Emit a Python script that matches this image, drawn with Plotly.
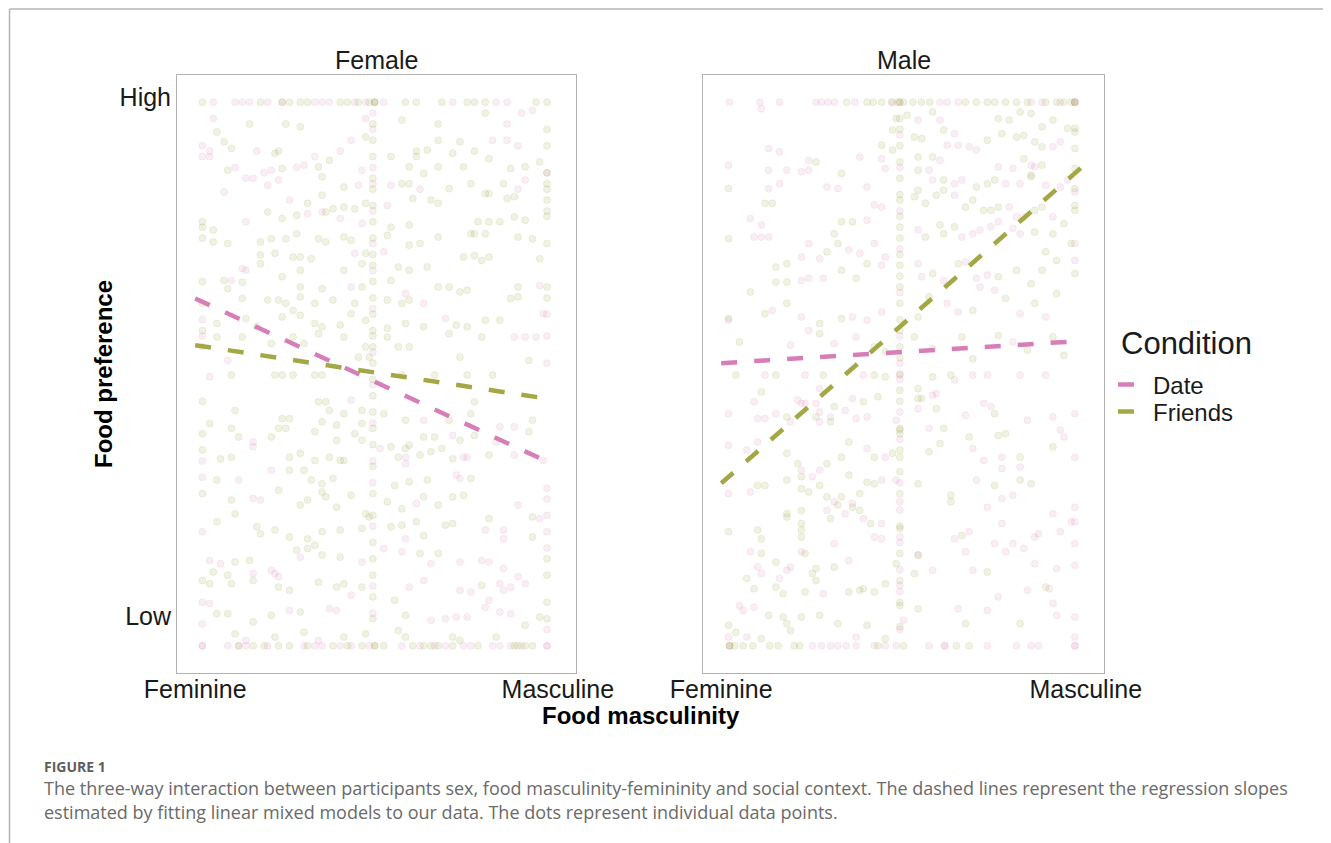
import plotly.graph_objects as go

# ---------------- data (x: 0 = Feminine, 1 = Masculine; y: 0 = lowest, 100 = highest) -------------
x_ticks = [0, 1]
x_ticklabels = ["Feminine", "Masculine"]
y_ticks = [5.5, 101]
y_ticklabels = ["Low", "High"]
panels = ["Female", "Male"]
conditions = ["Date", "Friends"]

# regression slopes (start x, end x, start y, end y)
female_date_line_x = [0.0, 0.970]
female_date_line_y = [63.9, 33.9]
female_friends_line_x = [0.0, 0.967]
female_friends_line_y = [55.3, 45.5]
male_date_line_x = [0.0, 0.970]
male_date_line_y = [52.0, 56.0]
male_friends_line_x = [0.0, 1.002]
male_friends_line_y = [29.9, 88.8]

# ---- Female panel, Date ----
female_date_top_x = [0.05, 0.11, 0.13, 0.15, 0.20, 0.24, 0.33, 0.35, 0.37, 0.44, 0.47, 0.495, 0.52, 0.71, 0.83, 0.86]
female_date_bottom_x = [0.02, 0.02, 0.09, 0.12, 0.14, 0.20, 0.30, 0.33, 0.35, 0.40, 0.43, 0.48, 0.57, 0.62,
                        0.66, 0.69, 0.74, 0.76, 0.82, 0.84, 0.87, 0.90, 0.97, 0.97]
female_date_mid_y = [98, 95, 88, 85, 80, 74, 69, 62, 54, 48, 41, 34, 30, 22, 11, 6]
female_date_left_y = [92, 90, 60, 57, 55, 34, 31, 21, 8, 4]
female_date_right_y = [87, 61, 57, 52, 29, 27, 24, 21, 18, 3]
female_date_points = [
    [0.05, 97], [0.04, 91], [0.04, 90], [0.17, 91], [0.33, 90], [0.40, 91], [0.43, 93], [0.47, 97],
    [0.86, 96], [0.90, 98], [0.93, 98.5], [0.82, 93], [0.86, 93], [0.89, 92], [0.11, 88], [0.19, 87],
    [0.21, 87.5], [0.28, 88], [0.30, 88.4], [0.46, 87.5], [0.14, 86], [0.16, 86], [0.20, 84.7], [0.23, 85.7],
    [0.45, 84.7], [0.54, 84.7], [0.62, 84], [0.89, 84], [0.91, 85.7], [0.08, 83.5], [0.26, 82], [0.53, 81],
    [0.14, 78], [0.31, 79.5], [0.35, 79.8], [0.40, 78.6], [0.46, 77.7], [0.44, 72.2], [0.52, 72.5],
    [0.13, 69.4], [0.14, 69.1], [0.10, 67.2], [0.43, 66], [0.58, 64.8], [0.95, 66.3], [0.63, 63],
    [0.69, 60.2], [0.96, 61.1], [0.09, 52.5], [0.88, 56.8], [0.91, 56.8], [0.94, 56.8],
    [0.04, 49.5], [0.43, 45.2], [0.63, 41.5], [0.84, 40.3], [0.88, 40.3], [0.51, 36.3], [0.71, 38.7],
    [0.83, 37.5], [0.88, 35.1], [0.96, 34.1], [0.16, 37.5], [0.16, 36.6], [0.58, 34.7], [0.58, 33.5],
    [0.74, 34.7], [0.75, 34.7], [0.12, 30.5], [0.21, 32.3], [0.72, 31.4], [0.73, 30.8], [0.16, 27.1],
    [0.18, 26.8], [0.61, 26.2], [0.89, 25.9], [0.95, 23.4], [0.85, 21.3], [0.85, 19.7], [0.80, 21.3],
    [0.04, 15.7], [0.07, 15.1], [0.16, 13.3], [0.21, 13.9], [0.22, 13.3], [0.23, 12.7], [0.29, 16.3],
    [0.46, 15.4], [0.52, 17.9], [0.57, 17.3], [0.58, 19.7], [0.65, 15.1], [0.73, 15.4], [0.79, 15.7],
    [0.81, 15.4], [0.85, 14.2], [0.89, 12.7], [0.59, 10.8], [0.63, 12], [0.73, 10.2], [0.76, 9.9],
    [0.84, 11.4], [0.85, 10.2], [0.87, 10.8], [0.91, 11.4], [0.04, 7.8], [0.26, 6.5], [0.37, 6.8],
    [0.39, 6.5], [0.43, 9.3], [0.65, 4.7], [0.69, 5], [0.72, 5.3], [0.75, 5.3], [0.80, 7.1], [0.81, 8.4],
    [0.84, 6.2], [0.87, 5.9], [0.14, 1], [0.34, 1],
]

# ---- Female panel, Friends ----
female_friends_top_x = [0.02, 0.18, 0.24, 0.26, 0.29, 0.31, 0.40, 0.42, 0.45, 0.48, 0.495, 0.495, 0.58,
                        0.61, 0.68, 0.75, 0.77, 0.80, 0.94, 0.97]
female_friends_bottom_x = [0.12, 0.16, 0.19, 0.23, 0.26, 0.31, 0.38, 0.42, 0.46, 0.495, 0.495, 0.52, 0.60,
                           0.63, 0.65, 0.67, 0.71, 0.78, 0.88, 0.89, 0.91, 0.93]
female_friends_mid_y = [96, 93, 90, 86, 84, 81, 78, 75, 72, 70, 67, 64, 61, 58, 57, 55, 52, 49, 46, 43,
                        40, 37, 33, 28, 24, 19, 16, 13, 9, 5]
female_friends_left_y = [78, 77, 75, 67, 63, 58, 45, 39, 36, 28, 12]
female_friends_right_y = [95, 92, 87, 85, 84, 82, 80, 79, 74, 66, 64, 16, 13, 8, 5]
female_friends_points = [
    [0.15, 96], [0.25, 96], [0.29, 95.5], [0.06, 94.5], [0.08, 92.7], [0.10, 91.5], [0.23, 91], [0.22, 90.6],
    [0.37, 89.3], [0.47, 93.6], [0.57, 96.7], [0.67, 96], [0.67, 93], [0.73, 92.7], [0.80, 98], [0.61, 91],
    [0.64, 91.2], [0.61, 90], [0.71, 90.6], [0.77, 91], [0.81, 89.6], [0.91, 88.1], [0.95, 89],
    [0.09, 87.5], [0.24, 87.8], [0.34, 88.1], [0.54, 90], [0.59, 88.1], [0.63, 86.9], [0.67, 88.1],
    [0.74, 88.1], [0.87, 87.8], [0.35, 86.3], [0.41, 84.4], [0.57, 85], [0.59, 85], [0.70, 84.1],
    [0.76, 85], [0.80, 83.2], [0.81, 83.2], [0.85, 85], [0.35, 82.9], [0.31, 81.4], [0.38, 80.4],
    [0.41, 80.7], [0.44, 80.4], [0.47, 81.4], [0.60, 82.3], [0.65, 82], [0.67, 81.4], [0.86, 82.3],
    [0.88, 82.6], [0.20, 79.8], [0.24, 78.6], [0.28, 79.2], [0.36, 79.8], [0.54, 77], [0.59, 77.4],
    [0.78, 78], [0.81, 78], [0.84, 78], [0.88, 78.9], [0.91, 78.3], [0.77, 75.8], [0.05, 76.5],
    [0.05, 74.3], [0.09, 74], [0.18, 74.3], [0.21, 74.9], [0.25, 74.9], [0.28, 75.8], [0.34, 74.9],
    [0.36, 74.3], [0.41, 75.2], [0.43, 74.6], [0.53, 75.5], [0.59, 73.7], [0.62, 74], [0.67, 75.2],
    [0.76, 75.8], [0.80, 75.8], [0.89, 75.2], [0.93, 74.9], [0.18, 71.9], [0.22, 72.2], [0.27, 71.5],
    [0.29, 71.5], [0.32, 71.2], [0.47, 72.2], [0.64, 69.7], [0.74, 71.5], [0.77, 71.8], [0.79, 70.9],
    [0.81, 71.5], [0.95, 71.2], [0.18, 70.3], [0.24, 67.9], [0.29, 69.1], [0.41, 69.1], [0.46, 70.3],
    [0.56, 69.7], [0.59, 69.1], [0.08, 67.2], [0.13, 66.9], [0.29, 66], [0.35, 65.7], [0.46, 66],
    [0.54, 67.2], [0.67, 66], [0.70, 66], [0.73, 65.1], [0.75, 65.4], [0.89, 66], [0.09, 65.7],
    [0.13, 63.9], [0.20, 63.6], [0.23, 63.6], [0.25, 63], [0.29, 64.2], [0.33, 63], [0.38, 63.6],
    [0.44, 63], [0.53, 63.6], [0.57, 63], [0.59, 63.6], [0.87, 63.9], [0.89, 64.2], [0.06, 59.3],
    [0.14, 60.2], [0.17, 58.7], [0.24, 60.5], [0.27, 61.7], [0.29, 60.8], [0.33, 59.3], [0.35, 58.7],
    [0.40, 59], [0.43, 61.1], [0.47, 59.9], [0.53, 58.4], [0.58, 59.3], [0.63, 58.7], [0.72, 59],
    [0.75, 58.7], [0.80, 59.9], [0.84, 59.9], [0.06, 56.8], [0.13, 56.8], [0.21, 55.6], [0.27, 56.8],
    [0.30, 55.6], [0.34, 57.4], [0.41, 56.8], [0.47, 55], [0.53, 56.8], [0.56, 55], [0.59, 55],
    [0.70, 57.4], [0.79, 56.8], [0.92, 52.5], [0.73, 53.1], [0.48, 53.1], [0.45, 53.1],
    [0.10, 49.8], [0.22, 49.8], [0.24, 49.8], [0.27, 49.8], [0.33, 49.8], [0.35, 49.8], [0.57, 49.8],
    [0.66, 49.8], [0.75, 49.8], [0.82, 49.8], [0.11, 43.3], [0.34, 44.9], [0.36, 44.9], [0.37, 43.3],
    [0.41, 42.7], [0.46, 43.3], [0.52, 42.7], [0.58, 41.5], [0.70, 41.5], [0.76, 42.7], [0.77, 44.9],
    [0.92, 39.4], [0.93, 41.5], [0.04, 40.9], [0.10, 40], [0.12, 38.4], [0.21, 38.4], [0.24, 41.8],
    [0.26, 41.8], [0.23, 40], [0.25, 40], [0.33, 39.4], [0.35, 41.2], [0.39, 40.6], [0.39, 37.8],
    [0.44, 39], [0.46, 37.8], [0.46, 40.9], [0.54, 36.6], [0.58, 36.3], [0.59, 36.9], [0.63, 38.4],
    [0.66, 38.4], [0.68, 36.3], [0.73, 37.8], [0.77, 38.7], [0.07, 34.4], [0.10, 34.7], [0.26, 34.7],
    [0.29, 35.4], [0.33, 34.1], [0.37, 34.7], [0.40, 34.1], [0.56, 34.7], [0.62, 35.1], [0.65, 35.7],
    [0.71, 34.4], [0.81, 35.1], [0.06, 30.5], [0.26, 32.3], [0.30, 32.3], [0.32, 30.5], [0.35, 29.8],
    [0.38, 30.8], [0.41, 34.1], [0.55, 29.5], [0.59, 30.2], [0.64, 30.5], [0.76, 30.8], [0.10, 26.8],
    [0.23, 28.6], [0.29, 25.9], [0.31, 26.8], [0.35, 28.3], [0.36, 27.4], [0.39, 25.5], [0.43, 27.7],
    [0.47, 24.3], [0.48, 23.7], [0.53, 26.5], [0.57, 25.2], [0.63, 27.4], [0.67, 25.9], [0.71, 27.4],
    [0.74, 27.7], [0.93, 23.7], [0.06, 22.8], [0.11, 24.3], [0.17, 21.9], [0.18, 20.6], [0.22, 21.3],
    [0.26, 20], [0.31, 19.7], [0.33, 18.5], [0.35, 21], [0.40, 21.3], [0.46, 21.6], [0.54, 21.9],
    [0.57, 22.2], [0.61, 22.8], [0.63, 20.3], [0.69, 22.2], [0.71, 22.5], [0.81, 23.4], [0.93, 20],
    [0.11, 15.4], [0.15, 15.7], [0.05, 13.6], [0.09, 13], [0.28, 17.6], [0.31, 17.9], [0.35, 16.7],
    [0.40, 16.3], [0.62, 17], [0.67, 17], [0.04, 11.4], [0.10, 11.4], [0.16, 12], [0.23, 10.8],
    [0.26, 10.2], [0.34, 11.7], [0.39, 10.8], [0.41, 11.4], [0.46, 10.8], [0.79, 11.1], [0.06, 5.9],
    [0.09, 5.9], [0.16, 4.4], [0.21, 5.6], [0.29, 6.2], [0.55, 8.4], [0.58, 5.6], [0.91, 3.8],
    [0.95, 5.3], [0.11, 2.2], [0.22, 1.6], [0.30, 2.5], [0.41, 1.6], [0.47, 2.2], [0.56, 2.8],
    [0.58, 1.6], [0.71, 1.6], [0.73, 1], [0.83, 1.6],
]

# ---- Male panel, Date ----
male_date_top_x = [0.023, 0.106, 0.16, 0.26, 0.275, 0.293, 0.311, 0.366, 0.47, 0.49, 0.60, 0.62, 0.65,
                   0.85, 0.88, 0.93, 0.97, 0.97]
male_date_bottom_x = [0.023, 0.25, 0.275, 0.30, 0.32, 0.343, 0.37, 0.42, 0.45, 0.48, 0.57, 0.613, 0.613,
                      0.73, 0.81, 0.85, 0.87, 0.97, 0.97]
male_date_mid_y = [94, 88, 80, 73, 65, 57, 52, 49, 43, 38, 30, 25, 19, 14, 10, 3]
male_date_left_y = [88.4, 59.9, 42.7, 36.9, 28, 1.6]
male_date_right_y = [83.5, 74, 70.9, 42.7, 34.7, 25.5, 22.8, 18.8, 14.8, 5.3, 1.6]
male_date_points = [
    [0.11, 98.8], [0.13, 91.5], [0.16, 90.9], [0.13, 87.5], [0.18, 87.5], [0.22, 87.2], [0.24, 87.5],
    [0.13, 84.1], [0.16, 85], [0.08, 78.6], [0.11, 77.4], [0.09, 75.2], [0.11, 75.2], [0.13, 75.2],
    [0.24, 89.3], [0.29, 84.4], [0.32, 84.1], [0.38, 89.9], [0.40, 84.4], [0.44, 89.6], [0.45, 87.8],
    [0.54, 96.7], [0.60, 96.7], [0.64, 94.2], [0.60, 89.3], [0.62, 92.1], [0.65, 92.1], [0.68, 91.8],
    [0.70, 91.2], [0.91, 91.8], [0.93, 92.7], [0.85, 88.4], [0.86, 88.1], [0.76, 88.1], [0.80, 87.8],
    [0.57, 87.5], [0.58, 85.7], [0.64, 85], [0.66, 85.7], [0.78, 85], [0.82, 85], [0.89, 84.7],
    [0.93, 84.4], [0.95, 85.7], [0.40, 78.3], [0.42, 81.1], [0.44, 80.7], [0.64, 82.9], [0.79, 80.7],
    [0.81, 78.9], [0.83, 78.9], [0.91, 78.9], [0.22, 71.5], [0.24, 74], [0.27, 71.2], [0.35, 72.8],
    [0.38, 72.2], [0.42, 74], [0.45, 71.5], [0.54, 76.5], [0.66, 75.2], [0.69, 75.8], [0.71, 76.5],
    [0.74, 77.1], [0.76, 78], [0.80, 76.8], [0.82, 75.8], [0.22, 67.2], [0.24, 67.6], [0.28, 67.6],
    [0.44, 70], [0.54, 70.3], [0.55, 67.9], [0.61, 67.2], [0.67, 70.6], [0.70, 67.6], [0.73, 68.2],
    [0.14, 61.7], [0.22, 60.5], [0.36, 60.5], [0.40, 59.9], [0.44, 61.4], [0.62, 63], [0.65, 61.4],
    [0.71, 66], [0.75, 65.4], [0.82, 61.1], [0.89, 60.5], [0.19, 55.3], [0.24, 58], [0.31, 55.6],
    [0.37, 56.8], [0.80, 55.9],
    [0.12, 49.8], [0.23, 49.8], [0.39, 49.8], [0.49, 49.8], [0.64, 48.9], [0.69, 49.8], [0.73, 49.8],
    [0.82, 49.8], [0.89, 49.8], [0.09, 44.9], [0.21, 45.2], [0.22, 44.6], [0.23, 44.6], [0.26, 44.6],
    [0.27, 47.3], [0.36, 45.5], [0.34, 43.3], [0.54, 43.6], [0.58, 46.1], [0.59, 46.4], [0.72, 44.6],
    [0.74, 44], [0.67, 42.4], [0.84, 41.5], [0.91, 42.1], [0.10, 41.8], [0.12, 41.8], [0.15, 42.7],
    [0.19, 41.2], [0.27, 41.2], [0.27, 43], [0.30, 42.1], [0.37, 41.8], [0.40, 42.1], [0.48, 41.5],
    [0.57, 40], [0.93, 39.7], [0.94, 38.4], [0.07, 36], [0.10, 37.5], [0.22, 32.3], [0.27, 32.3],
    [0.40, 36.3], [0.45, 34.7], [0.69, 36.3], [0.72, 34.1], [0.77, 34.7], [0.77, 32.6], [0.82, 32.9],
    [0.08, 28.3], [0.25, 31.1], [0.31, 26.5], [0.36, 26.2], [0.44, 30.5], [0.48, 30.5], [0.49, 26.5],
    [0.70, 30.5], [0.73, 25.5], [0.77, 27.1], [0.80, 27.7], [0.29, 24.9], [0.31, 18.8], [0.34, 24.3],
    [0.39, 23.4], [0.42, 20], [0.44, 19.7], [0.44, 22.5], [0.49, 20], [0.54, 16.7], [0.68, 21],
    [0.67, 17.3], [0.64, 19.7], [0.75, 18.8], [0.77, 22.5], [0.78, 17.3], [0.80, 18.8], [0.83, 17.9],
    [0.86, 20], [0.87, 20.6], [0.91, 24.3], [0.93, 21], [0.96, 22.8], [0.08, 17.3], [0.10, 14.5],
    [0.11, 13.3], [0.18, 13.9], [0.19, 14.5], [0.22, 17.3], [0.35, 15.7], [0.58, 13.9], [0.69, 13.9],
    [0.86, 15.1], [0.92, 14.2], [0.16, 12.4], [0.28, 9.6], [0.49, 11.1], [0.65, 6.8], [0.73, 6.5],
    [0.76, 9], [0.84, 10.2], [0.90, 10.5], [0.91, 7.8], [0.05, 7.4], [0.06, 6.5], [0.09, 7.1],
    [0.50, 4.7], [0.92, 5.6], [0.07, 1.6], [0.37, 1.6],
]

# ---- Male panel, Friends ----
male_friends_top_x = [0.344, 0.40, 0.417, 0.44, 0.467, 0.485, 0.49, 0.50, 0.526, 0.549, 0.572, 0.67, 0.70,
                      0.73, 0.75, 0.78, 0.81, 0.84, 0.89, 0.92, 0.94, 0.96, 0.97, 0.97]
male_friends_bottom_x = [0.023, 0.023, 0.037, 0.06, 0.087, 0.133, 0.156, 0.20, 0.215, 0.43, 0.50, 0.645, 0.68]
male_friends_mid_y = [97, 95, 92, 89, 86, 83, 82, 79, 77, 75, 72, 70, 68, 66, 63, 60, 58, 55, 53, 50, 47,
                      45, 40, 36, 32, 28, 22, 17, 12, 8]
male_friends_left_y = [84.1, 74.9, 21, 3.8]
male_friends_right_y = [95.2, 94.5, 91.5, 87.8, 84.1, 81, 80.1, 68.5]
male_friends_points = [
    [0.12, 81.4], [0.14, 81.4], [0.26, 89], [0.33, 86.9], [0.44, 92.1], [0.47, 94.9], [0.47, 91.2],
    [0.48, 97], [0.51, 97.6], [0.58, 98.2], [0.61, 94.9], [0.53, 93.6], [0.55, 93.3], [0.54, 89.9],
    [0.58, 89.9], [0.73, 93], [0.76, 97], [0.79, 96.7], [0.82, 98.2], [0.85, 97.9], [0.88, 95.5],
    [0.91, 96.7], [0.95, 95.2], [0.77, 94.2], [0.81, 93.6], [0.83, 93.9], [0.86, 92.7], [0.88, 91.8],
    [0.83, 89.6], [0.88, 88.4], [0.54, 87.5], [0.61, 85.7], [0.70, 84.4], [0.73, 85], [0.75, 85.7],
    [0.85, 86.3], [0.85, 86.6], [0.31, 75.8], [0.33, 78], [0.36, 78], [0.53, 82.6], [0.54, 83.8],
    [0.56, 81.4], [0.59, 82.9], [0.61, 83.8], [0.67, 80.7], [0.69, 82], [0.72, 80.1], [0.74, 80.1],
    [0.76, 80.7], [0.86, 80.1], [0.88, 80.7], [0.15, 69.7], [0.18, 70.3], [0.29, 72.5], [0.32, 74],
    [0.56, 75.2], [0.60, 77.4], [0.61, 75.8], [0.64, 77.1], [0.86, 76.1], [0.91, 75.8], [0.94, 77.7],
    [0.96, 74], [0.08, 65.1], [0.15, 66.9], [0.18, 66.9], [0.33, 69.1], [0.37, 67.6], [0.40, 70.3],
    [0.58, 68.5], [0.65, 70.3], [0.76, 67.9], [0.81, 69.1], [0.85, 66.6], [0.88, 69.1], [0.92, 70.9],
    [0.89, 72.5], [0.92, 64.8], [0.02, 60.2], [0.12, 61.1], [0.18, 63], [0.27, 59.3], [0.33, 60.2],
    [0.54, 60.5], [0.57, 64.2], [0.69, 61.7], [0.78, 63.9], [0.86, 63], [0.91, 56.8], [0.05, 55.9],
    [0.27, 57.4], [0.42, 55], [0.45, 54.1], [0.53, 56.8], [0.58, 54.7], [0.66, 56.8], [0.69, 52.8],
    [0.76, 57.1], [0.84, 54.4], [0.94, 53.4],
    [0.04, 49.8], [0.15, 49.8], [0.28, 49.8], [0.42, 49.8], [0.45, 49.5], [0.58, 49.5], [0.63, 49.8],
    [0.11, 46.7], [0.31, 44], [0.39, 44.9], [0.43, 45.8], [0.54, 47.3], [0.54, 45.5], [0.55, 45.5],
    [0.59, 43.6], [0.75, 42.7], [0.18, 42.1], [0.26, 42.1], [0.30, 41.2], [0.49, 39], [0.49, 39.7],
    [0.61, 40], [0.68, 38.4], [0.76, 38.7], [0.78, 39], [0.18, 35.4], [0.21, 33.5], [0.29, 33.5],
    [0.33, 34.7], [0.35, 37.5], [0.42, 34.7], [0.47, 35.4], [0.49, 34.7], [0.57, 35.7], [0.60, 37.2],
    [0.82, 34.7], [0.91, 36.6], [0.10, 29.5], [0.12, 29.5], [0.18, 30.5], [0.22, 31.1], [0.22, 28.9],
    [0.24, 28.3], [0.27, 29.5], [0.29, 27.4], [0.33, 27.4], [0.35, 31.4], [0.38, 28], [0.40, 30.1],
    [0.42, 29.8], [0.54, 29.8], [0.63, 27.7], [0.63, 26.5], [0.75, 29.5], [0.82, 30.5], [0.85, 29.8],
    [0.10, 21.3], [0.11, 19.7], [0.18, 23.7], [0.18, 24.3], [0.22, 24.9], [0.22, 21.3], [0.22, 22.5],
    [0.22, 20], [0.32, 25.9], [0.30, 23.4], [0.36, 25.5], [0.38, 24.9], [0.41, 22.5], [0.49, 21.6],
    [0.66, 20.3], [0.11, 17], [0.15, 15.4], [0.07, 12.4], [0.23, 17], [0.25, 13.3], [0.26, 14.2],
    [0.31, 14.5], [0.48, 15.1], [0.53, 13.3], [0.54, 16.7], [0.73, 13.6], [0.09, 10.5], [0.15, 10.8],
    [0.17, 9.6], [0.23, 9.9], [0.26, 12], [0.35, 9.9], [0.38, 10.2], [0.39, 10.5], [0.42, 9.9],
    [0.45, 11.4], [0.49, 7.4], [0.54, 6.8], [0.89, 10.8], [0.13, 5.6], [0.17, 5.3], [0.18, 4.1],
    [0.22, 5.3], [0.27, 5.6], [0.32, 4.1], [0.40, 3.8], [0.49, 3.5], [0.67, 4.1], [0.82, 4.1],
    [0.04, 2.5], [0.11, 1.3], [0.19, 2.8], [0.45, 1.3],
]

# column / row positions of the densest food ratings
col_left_x = 0.02
col_mid_x = 0.49
col_right_x = 0.97
row_top_y = 100
row_bottom_y = 0

# ---------------- style ----------------
PINK = "#D67EB8"
GREEN = "#A3A845"
PINK_PT = "rgba(214,120,178,0.13)"
GREEN_PT = "rgba(150,160,55,0.14)"
FONT = "Liberation Sans, Arial, sans-serif"
CAP_FONT = "Open Sans, sans-serif"
PAGE_MARGIN = 8                      # browser body margin around the figure
W, H = 1331 - PAGE_MARGIN, 843 - PAGE_MARGIN


def fx(px):
    """window pixel column -> paper fraction"""
    return (px - PAGE_MARGIN) / W


def fy(py):
    """window pixel row -> paper fraction"""
    return (H - (py - PAGE_MARGIN)) / H


def collect(top_x, bottom_x, mid_y, left_y, right_y, points):
    xs, ys = [], []
    xs += top_x; ys += [row_top_y] * len(top_x)
    xs += bottom_x; ys += [row_bottom_y] * len(bottom_x)
    xs += [col_mid_x] * len(mid_y); ys += mid_y
    xs += [col_left_x] * len(left_y); ys += left_y
    xs += [col_right_x] * len(right_y); ys += right_y
    xs += [p[0] for p in points]; ys += [p[1] for p in points]
    return xs, ys


panel_data = {
    "Female": {
        "Date": (collect(female_date_top_x, female_date_bottom_x, female_date_mid_y, female_date_left_y,
                         female_date_right_y, female_date_points), (female_date_line_x, female_date_line_y)),
        "Friends": (collect(female_friends_top_x, female_friends_bottom_x, female_friends_mid_y,
                            female_friends_left_y, female_friends_right_y, female_friends_points),
                    (female_friends_line_x, female_friends_line_y)),
    },
    "Male": {
        "Date": (collect(male_date_top_x, male_date_bottom_x, male_date_mid_y, male_date_left_y,
                         male_date_right_y, male_date_points), (male_date_line_x, male_date_line_y)),
        "Friends": (collect(male_friends_top_x, male_friends_bottom_x, male_friends_mid_y,
                            male_friends_left_y, male_friends_right_y, male_friends_points),
                    (male_friends_line_x, male_friends_line_y)),
    },
}

pt_colors = {"Date": PINK_PT, "Friends": GREEN_PT}
ln_colors = {"Date": PINK, "Friends": GREEN}
legend_ids = {"Date": "legend", "Friends": "legend2"}

fig = go.Figure()
for i, panel in enumerate(panels):
    xa = "x" if i == 0 else "x2"
    ya = "y" if i == 0 else "y2"
    for cond in conditions:
        (px, py), _ = panel_data[panel][cond]
        fig.add_trace(go.Scatter(
            x=px, y=py, mode="markers", xaxis=xa, yaxis=ya, showlegend=False, hoverinfo="skip",
            marker=dict(size=7, color=pt_colors[cond], line=dict(width=0.9, color=pt_colors[cond])),
        ))
for i, panel in enumerate(panels):
    xa = "x" if i == 0 else "x2"
    ya = "y" if i == 0 else "y2"
    for cond in conditions:
        _, (lx, ly) = panel_data[panel][cond]
        fig.add_trace(go.Scatter(
            x=lx, y=ly, mode="lines", xaxis=xa, yaxis=ya, name=cond, legendgroup=cond,
            legend=legend_ids[cond], showlegend=(i == 0), hoverinfo="skip",
            line=dict(color=ln_colors[cond], width=4.5, dash="16px,17px"),
        ))

axis_common = dict(
    range=[-0.05, 1.05], tickvals=x_ticks, ticktext=x_ticklabels, showgrid=False, zeroline=False,
    showline=True, mirror=True, linecolor="#B3B3B3", linewidth=1, ticks="", automargin=False,
    ticklabelstandoff=-6, tickfont=dict(family=FONT, size=25, color="#1A1A1A"), fixedrange=True,
)
yaxis_common = dict(
    range=[-5, 105], tickvals=y_ticks, ticktext=y_ticklabels, showgrid=False, zeroline=False,
    showline=True, mirror=True, linecolor="#B3B3B3", linewidth=1, ticks="", automargin=False,
    tickfont=dict(family=FONT, size=25, color="#1A1A1A"), domain=[fy(673), fy(75)], fixedrange=True,
)

legend_common = dict(
    xanchor="left", yanchor="middle", font=dict(family=FONT, size=24, color="#1A1A1A"),
    itemwidth=30, bgcolor="rgba(0,0,0,0)", borderwidth=0,
)


def ann(text, px, py, size, family=FONT, color="#1A1A1A", xanchor="center", angle=0):
    return dict(text=text, x=fx(px), y=fy(py), xref="paper", yref="paper", showarrow=False,
                xanchor=xanchor, yanchor="middle", textangle=angle,
                font=dict(family=family, size=size, color=color))


fig.update_layout(
    width=W, height=H, margin=dict(l=0, r=0, t=0, b=0, autoexpand=False),
    paper_bgcolor="white", plot_bgcolor="white",
    xaxis=dict(axis_common, domain=[fx(177), fx(576)], anchor="y"),
    xaxis2=dict(axis_common, domain=[fx(703), fx(1104)], anchor="y2"),
    yaxis=dict(yaxis_common, anchor="x"),
    yaxis2=dict(yaxis_common, anchor="x2", showticklabels=False),
    showlegend=True,
    legend=dict(legend_common, x=fx(1113), y=fy(385)),
    legend2=dict(legend_common, x=fx(1113), y=fy(412)),
    annotations=[
        ann(panels[0], 376.5, 60, 25),
        ann(panels[1], 903.5, 60, 25),
        ann("<b>Food masculinity</b>", 640.5, 715, 24, color="#000000"),
        ann("<b>Food preference</b>", 103, 374, 24, color="#000000", angle=-90),
        ann("Condition", 1119, 343, 31, xanchor="left"),
        ann("<b>FIGURE 1</b>", 42, 766, 14, family=CAP_FONT, color="#5E5E5E", xanchor="left"),
        ann("The three-way interaction between participants sex, food masculinity-femininity and social "
            "context. The dashed lines represent the regression slopes", 42, 788, 18, family=CAP_FONT,
            color="#6A6A6A", xanchor="left"),
        ann("estimated by fitting linear mixed models to our data. The dots represent individual data points.",
            42, 812, 18, family=CAP_FONT, color="#6A6A6A", xanchor="left"),
    ],
    shapes=[
        dict(type="line", xref="paper", yref="paper", x0=fx(9.5), x1=1, y0=fy(9), y1=fy(9),
             line=dict(color="#B5B5B5", width=1.5)),
        dict(type="line", xref="paper", yref="paper", x0=fx(9.5), x1=fx(9.5), y0=0, y1=fy(9),
             line=dict(color="#B5B5B5", width=1.5)),
    ],
)

fig.write_html("out.html", config={"displayModeBar": False})
